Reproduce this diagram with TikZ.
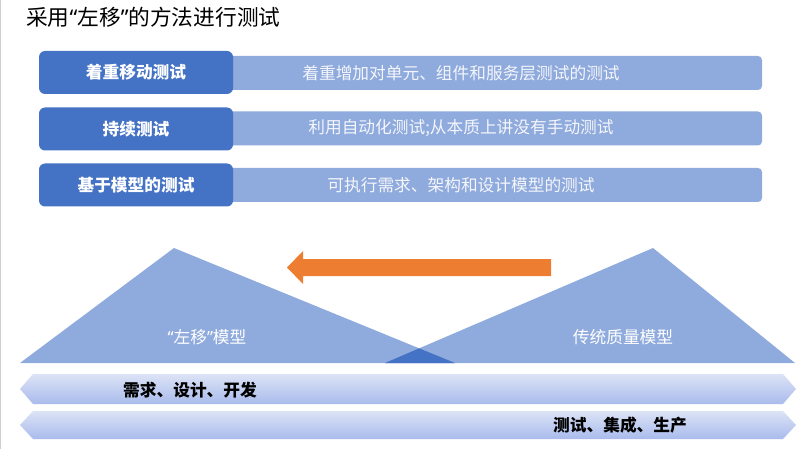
\documentclass[tikz,border=0pt]{standalone}
\usepackage{fontspec}
\setmainfont{Noto Sans CJK SC}
\newfontfamily\qfont{Noto Sans}
\newcommand{\myopenq}{{\qfont “}}
\newcommand{\myclosq}{{\qfont ”}}
\definecolor{darkblue}{HTML}{4472C4}
\definecolor{lightblue}{HTML}{8FAADC}
\definecolor{arroworange}{HTML}{ED7D31}
\definecolor{bartop}{HTML}{DCE3F6}
\definecolor{barbot}{HTML}{A9BBEC}
\definecolor{edgegray}{HTML}{CFCFCF}
\definecolor{softwhite}{HTML}{F4F6FB}
\tikzset{
  darkbox/.style={fill=darkblue, rounded corners=6pt, minimum width=194pt, minimum height=43pt, inner sep=0pt,
     text=white, font=\fontsize{16.7}{19}\selectfont\bfseries},
  lightbar/.style={fill=lightblue, rounded corners=4pt, minimum width=537pt, minimum height=34pt, inner sep=0pt},
  lighttext/.style={text=softwhite, font=\fontsize{16.7}{19}\selectfont, inner sep=0pt},
  trilabel/.style={text=white, font=\fontsize{16.7}{19}\selectfont, inner sep=0pt},
  bartext/.style={text=black, font=\fontsize{16.7}{19}\selectfont\bfseries, inner sep=0pt},
  phasebar/.style={top color=bartop, bottom color=barbot},
}
\begin{document}
\begin{tikzpicture}[x=1pt,y=-1pt]
\useasboundingbox (0,0) rectangle (808,449);
\draw[edgegray, line width=1.2pt] (0.8,0) -- (0.8,449);
% title
\node[anchor=west, inner sep=0pt, font=\fontsize{21.7}{24}\selectfont] (title) at (26,17) {采用\myopenq 左移\myclosq 的方法进行测试};
% rows
\node[lightbar] (bar1) at (493.5,73) {};
\node[lightbar] (bar2) at (493.5,128.5) {};
\node[lightbar] (bar3) at (493.5,185) {};
\node[darkbox] (box1) at (136,72.5) {着重移动测试};
\node[darkbox] (box2) at (136,129) {持续测试};
\node[darkbox] (box3) at (136,185) {基于模型的测试};
\node[lighttext] (txt1) at (461,73) {着重增加对单元、组件和服务层测试的测试};
\node[lighttext] (txt2) at (461,128.5) {利用自动化测试;从本质上讲没有手动测试};
\node[lighttext] (txt3) at (461,185) {可执行需求、架构和设计模型的测试};
% triangles
\fill[lightblue] (20,363) -- (174,248) -- (455,363) -- cycle;
\fill[lightblue] (385,363) -- (653,248) -- (795,363) -- cycle;
\begin{scope}
  \clip (20,363) -- (174,248) -- (455,363) -- cycle;
  \fill[darkblue] (385,363) -- (653,248) -- (795,363) -- cycle;
\end{scope}
\node[trilabel] (lefttri) at (207,337) {\myopenq 左移\myclosq 模型};
\node[trilabel] (righttri) at (623,337) {传统质量模型};
% arrow
\fill[arroworange] (551,259) -- (303,259) -- (303,251) -- (287,267.5) -- (303,284) -- (303,276) -- (551,276) -- cycle;
% phase bars
\shade[phasebar] (20,389) -- (33,374) -- (783,374) -- (796,389) -- (783,404) -- (33,404) -- cycle;
\shade[phasebar] (20,425) -- (33,411) -- (783,411) -- (796,425) -- (783,439) -- (33,439) -- cycle;
\node[bartext, anchor=west] (phase1) at (123,390) {需求、设计、开发};
\node[bartext, anchor=west] (phase2) at (553,425) {测试、集成、生产};
\end{tikzpicture}
\end{document}
